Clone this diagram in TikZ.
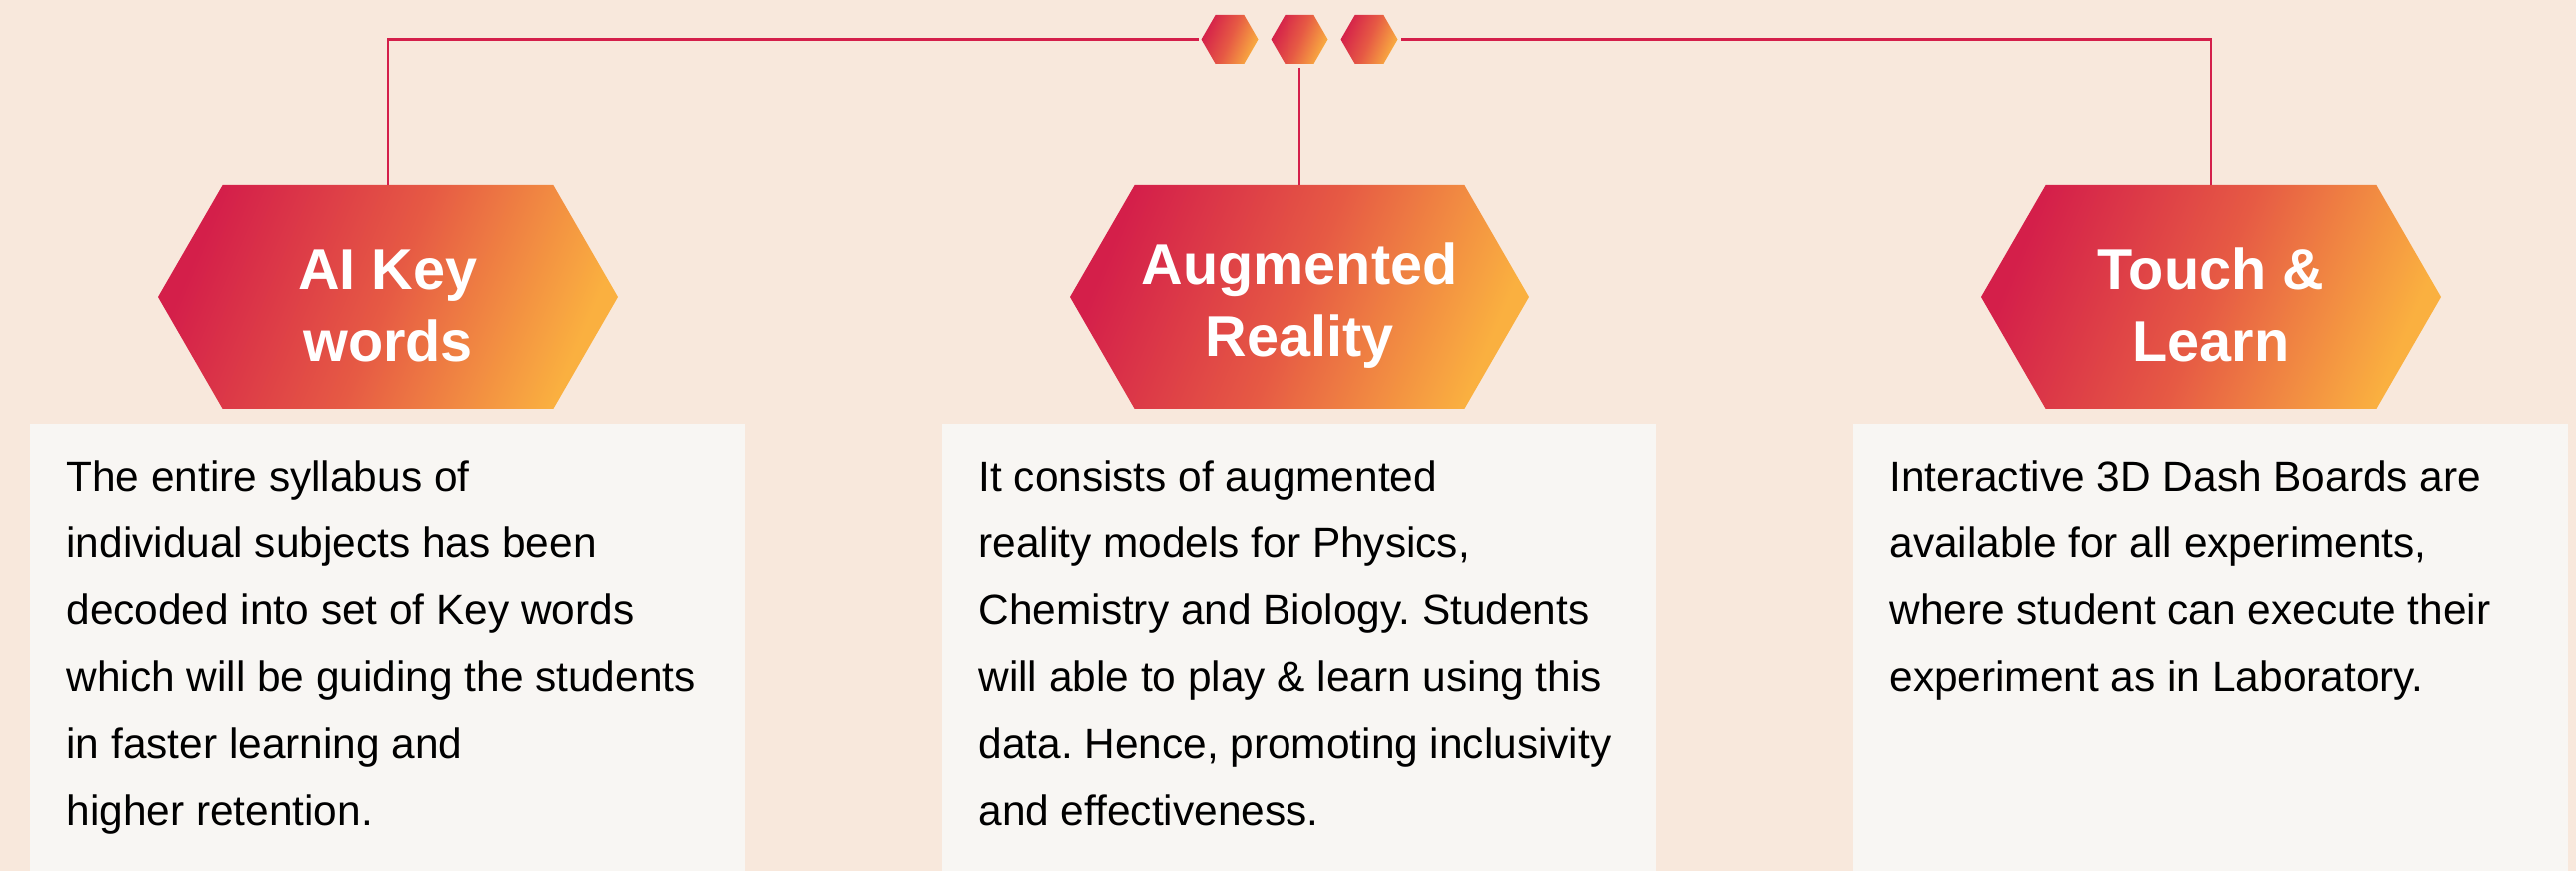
\documentclass[tikz,border=0pt]{standalone}
\usepackage{fontspec}
\setmainfont{Liberation Sans}
\usetikzlibrary{shapes.symbols, positioning}
\definecolor{peach}{HTML}{F8E8DC}
\definecolor{paper}{HTML}{F8F6F3}
\definecolor{crimson}{HTML}{D41F4A}
\definecolor{flame}{HTML}{E65A44}
\definecolor{amber}{HTML}{FAB040}
\tikzset{
    x=0.5pt, y=-0.5pt, % one unit is one pixel of the layout, y runs downwards
    hexbase/.style={signal, signal to=east and west, signal pointer angle=120,
        inner sep=0pt, outer sep=0pt,
        left color=crimson, right color=amber, middle color=flame, shading angle=67},
    bighex/.style={hexbase, minimum width=230pt, minimum height=112pt, text height=65pt,
        text=white, align=center, font=\bfseries\fontsize{28.8pt}{36pt}\selectfont},
    dothex/.style={hexbase, minimum width=28.5pt, minimum height=24.5pt},
    desc/.style={text width=330pt, align=flush left, inner sep=0pt,
        font=\frenchspacing\fontsize{21.2pt}{33.4pt}\selectfont},
    link/.style={draw=crimson, line width=1.1pt},
}

\begin{document}
\begin{tikzpicture}
            \fill[peach] (0,0) rectangle (2577,871);
            \useasboundingbox (0,0) rectangle (2577,871);

            % panels under the headings
            \fill[paper] (30,424) rectangle (745,871);
            \fill[paper] (942,424) rectangle (1657,871);
            \fill[paper] (1854,424) rectangle (2569,871);

            \node[bighex] (aikey) at (388,297) {AI Key\\words};
            \node[bighex, right of=aikey, node distance=456pt] (augreal) {Augmented\\Reality};
            \node[bighex, right of=augreal, node distance=456pt] (touch) {Touch \&\\Learn};

            \node[dothex] (dotmid) at (1300,39.5) {};
            \node[dothex, left of=dotmid, node distance=35pt] (dotleft) {};
            \node[dothex, right of=dotmid, node distance=35pt] (dotright) {};

            \draw[link, shorten >=1.5pt] (aikey.north) |- (dotleft.west);
            \draw[link, shorten >=1.5pt] (touch.north) |- (dotright.east);
            \draw[link, shorten <=2pt] (dotmid.south) -- (augreal.north);

            \node[desc, below=25.5pt of aikey, xshift=4.25pt] (aitext)
                {The entire syllabus of\\
                 individual subjects has been\\
                 decoded into set of Key words\\
                 which will be guiding the students\\
                 in faster learning and\\
                 higher retention.};
            \node[desc, below=25.5pt of augreal, xshift=4.25pt] (augtext)
                {It consists of augmented\\
                 reality models for Physics,\\
                 Chemistry and Biology. Students\\
                 will able to play \& learn using this\\
                 data. Hence, promoting inclusivity\\
                 and effectiveness.};
            \node[desc, below=25.5pt of touch, xshift=4.25pt] (touchtext)
                {Interactive 3D Dash Boards are\\
                 available for all experiments,\\
                 where student can execute their\\
                 experiment as in Laboratory.};

\end{tikzpicture}
\end{document}
